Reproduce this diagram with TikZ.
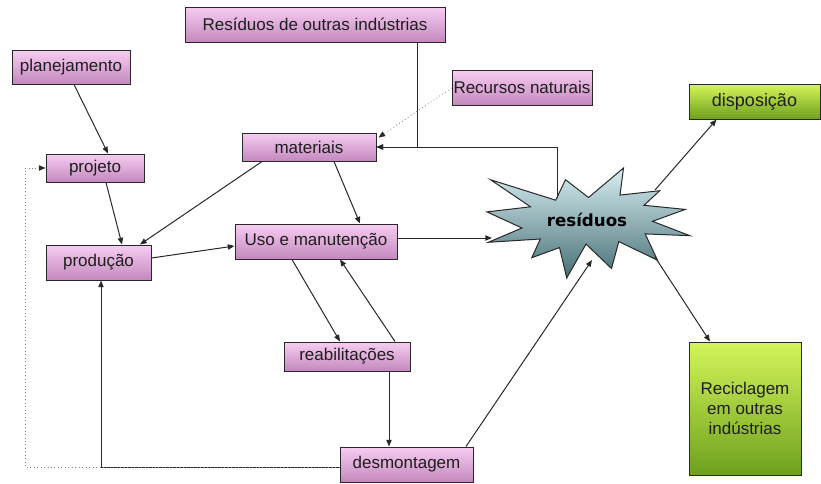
\documentclass[tikz,border=0pt]{standalone}
\usepackage{fontspec}
\setmainfont{Liberation Sans}
\newfontfamily\starfont{DejaVu Sans}
\usetikzlibrary{arrows.meta,calc}
\definecolor{pinktop}{RGB}{247,205,242}
\definecolor{pinkbot}{RGB}{196,136,190}
\definecolor{greentop}{RGB}{212,245,90}
\definecolor{greenbot}{RGB}{110,160,30}
\definecolor{startop}{RGB}{215,238,242}
\definecolor{starbot}{RGB}{72,112,118}
\definecolor{lnc}{RGB}{40,40,40}
\definecolor{txc}{RGB}{30,30,30}
\tikzset{
  box/.style={draw=lnc, line width=0.75pt, inner sep=0pt, text=txc,
    font=\fontsize{12.75}{15}\selectfont},
  pinkbox/.style={box, top color=pinktop, bottom color=pinkbot},
  greenbox/.style={box, top color=greentop, bottom color=greenbot},
  conn/.style={draw=lnc, line width=0.75pt, -{Triangle[length=5pt,width=4pt]}},
  dotconn/.style={draw=gray, line width=0.6pt, dotted, -{Triangle[length=5pt,width=4pt,color=lnc]}},
}
\begin{document}
\begin{tikzpicture}[x=0.75pt,y=-0.75pt]
\useasboundingbox (0,0) rectangle (821,483);
% boxes
\node[pinkbox, minimum width=260*0.75pt, minimum height=35*0.75pt] (rdo) at (315,24.5) {Resíduos de outras indústrias};
\node[pinkbox, minimum width=118*0.75pt, minimum height=34*0.75pt] (plan) at (71,67) {planejamento};
\node[pinkbox, minimum width=98*0.75pt, minimum height=28*0.75pt] (proj) at (95,168) {projeto};
\node[pinkbox, minimum width=134*0.75pt, minimum height=28*0.75pt] (mat) at (309,147) {materiais};
\node[pinkbox, minimum width=140*0.75pt, minimum height=35*0.75pt] (rec) at (522,87.5) {Recursos naturais};
\node[greenbox, minimum width=131*0.75pt, minimum height=35*0.75pt, font=\fontsize{13.5}{15}\selectfont] (disp) at (754.5,101.5) {disposição};
\node[pinkbox, minimum width=105*0.75pt, minimum height=35*0.75pt] (prod) at (98.5,262.5) {produção};
\node[pinkbox, minimum width=162*0.75pt, minimum height=35*0.75pt] (uso) at (316,241.5) {Uso e manutenção};
\node[pinkbox, minimum width=126*0.75pt, minimum height=29*0.75pt] (reab) at (347,356.5) {reabilitações};
\node[pinkbox, minimum width=133*0.75pt, minimum height=35*0.75pt] (desm) at (406.5,464.5) {desmontagem};
\node[greenbox, minimum width=112*0.75pt, minimum height=133*0.75pt, align=center] (recic) at (745,408.5) {Reciclagem\\em outras\\indústrias};
% star
\draw[draw=lnc, line width=0.75pt, top color=startop, bottom color=starbot]
 (588.5,197.5) -- (623.5,168) -- (620.0,195.1) -- (659.7,190.7) -- (644.0,205.3)
 -- (685.3,209.4) -- (652.5,221.3) -- (690,235.7) -- (645.2,233.9) -- (657.5,260.2)
 -- (618.8,241.6) -- (611.5,268.5) -- (586.0,244.1) -- (566.7,278) -- (559.5,247.6)
 -- (531.8,257.7) -- (540.3,239.0) -- (488.3,242.3) -- (522.0,228.0) -- (487,211.9)
 -- (530.5,206.8) -- (490.5,179.7) -- (555.7,200.2) -- (565.5,179.7) -- cycle;
\node[font=\starfont\bfseries\fontsize{12.5}{14}\selectfont, text=black] (res) at (587,220) {resíduos};
\coordinate (resT) at (557,197.5);
\coordinate (resL) at (492,238);
\coordinate (resB) at (592,260);
\coordinate (resNE) at (655,190);
\coordinate (resSE) at (655,257);
\coordinate (loopL) at (25,467);
% connectors
\draw[conn] ($(plan.south)+(3,0)$) -- ($(proj.north)+(13,0)$);
\draw[conn] ($(proj.south)+(11,0)$) -- ($(prod.north)+(23.5,0)$);
\draw[conn] ($(mat.south)+(-47,0)$) -- ($(prod.north)+(41.5,0)$);
\draw[conn] ($(mat.south)+(25,0)$) -- ($(uso.north)+(44,0)$);
\draw[conn] ($(rdo.south)+(102,0)$) |- (mat.east);
\draw[conn] (resT) |- (mat.east);
\draw[dotconn] ($(rec.west)+(0,0.5)$) -- ($(mat.north east)+(2,5)$);
\draw[conn] ($(prod.east)+(0,-4.5)$) -- ($(uso.west)+(0,4.5)$);
\draw[conn] ($(uso.east)+(0,-3.5)$) -- (resL);
\draw[conn] ($(uso.south)+(-24,0)$) -- ($(reab.north)+(-7,0)$);
\draw[conn] ($(reab.north)+(48,0)$) -- ($(uso.south)+(24,0)$);
\draw[conn] ($(reab.south)+(42,0)$) -- ($(desm.north)+(-17.5,0)$);
\draw[conn] ($(desm.west)+(0,2.5)$) -| ($(prod.south)+(2.5,0)$);
\draw[dotconn] ($(desm.west)+(0,2.5)$) -- (loopL) |- (proj.west);
\draw[conn] ($(desm.north)+(59.5,0)$) -- (resB);
\draw[conn] (resNE) -- ($(disp.south)+(-38,0)$);
\draw[conn] (resSE) -- ($(recic.north)+(-35,0)$);
\end{tikzpicture}
\end{document}
